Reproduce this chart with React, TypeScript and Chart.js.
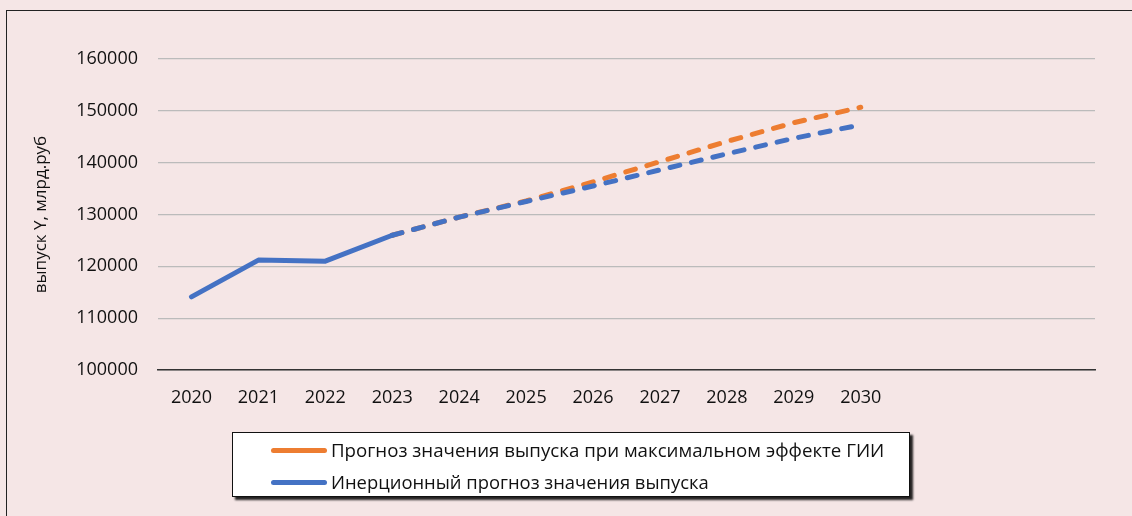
import React, { useEffect, useRef } from "react";
import { Chart, registerables } from "chart.js";

Chart.register(...registerables);

const years = ["2020", "2021", "2022", "2023", "2024", "2025", "2026", "2027", "2028", "2029", "2030", "", "", ""];
const maxEffect = [null, null, null, 126000, 129500, 132600, 136300, 140200, 144100, 147700, 150700, null, null, null];
const inertial = [114100, 121200, 121000, 126000, 129500, 132500, 135500, 138600, 141700, 144700, 147300, null, null, null];
const yTicks = [100000, 110000, 120000, 130000, 140000, 150000, 160000];
const seriesNames = [
  "Прогноз значения выпуска при максимальном эффекте ГИИ",
  "Инерционный прогноз значения выпуска",
];
const yTitle = "выпуск Y, млрд.руб";

const ORANGE = "#ED7D31";
const BLUE = "#4472C4";
const FONT = "'Open Sans', sans-serif";

export default function App() {
  const ref = useRef<HTMLCanvasElement | null>(null);

  useEffect(() => {
    if (!ref.current) return;
    const chart = new Chart(ref.current, {
      type: "line",
      data: {
        labels: years,
        datasets: [
          {
            label: seriesNames[0],
            data: maxEffect,
            borderColor: ORANGE,
            backgroundColor: ORANGE,
            borderWidth: 5,
            borderCapStyle: "round",
            borderJoinStyle: "round",
            borderDash: [10, 12],
            pointRadius: 0,
            tension: 0,
            order: 2,
          },
          {
            label: seriesNames[1],
            data: inertial,
            borderColor: BLUE,
            backgroundColor: BLUE,
            borderWidth: 5,
            borderCapStyle: "round",
            borderJoinStyle: "round",
            pointRadius: 0,
            tension: 0,
            order: 1,
            segment: {
              borderDash: (ctx: any) => (ctx.p0DataIndex >= 3 ? [10, 12] : []),
            },
          },
        ],
      },
      options: {
        responsive: false,
        animation: false,
        layout: { padding: { left: 0, top: 59, right: 37, bottom: 0 } },
        plugins: { legend: { display: false }, tooltip: { enabled: false } },
        scales: {
          x: {
            offset: true,
            grid: { display: false, drawTicks: false, offset: true },
            border: { display: true, color: "#333333", width: 1.5 },
            ticks: {
              color: "#111111",
              font: { family: FONT, size: 18 },
              padding: 17,
              maxRotation: 0,
              autoSkip: false,
            },
            afterFit: (s: any) => {
              s.height = 146;
            },
          },
          y: {
            min: 100000,
            max: 160000,
            afterBuildTicks: (s: any) => {
              s.ticks = yTicks.map((v) => ({ value: v }));
            },
            grid: { color: "#BBBBBB", lineWidth: 1.3, drawTicks: false },
            border: { display: false },
            ticks: {
              color: "#111111",
              font: { family: FONT, size: 18 },
              padding: 20,
              callback: (v: any) => String(v),
            },
            title: {
              display: true,
              text: yTitle,
              color: "#111111",
              font: { family: FONT, size: 17 },
              padding: { top: 31, bottom: 0 },
            },
            afterFit: (s: any) => {
              s.width = 158;
            },
          },
        },
      },
    });
    return () => chart.destroy();
  }, []);

  const legendRow = (color: string, text: string, top: number, size: number) => (
    <div style={{ position: "absolute", left: 38, top, height: 24, display: "flex", alignItems: "center" }}>
      <div style={{ width: 56, height: 5, borderRadius: 3, background: color, marginRight: 4 }} />
      <span style={{ fontFamily: FONT, fontSize: size, color: "#111", whiteSpace: "nowrap", lineHeight: "24px" }}>{text}</span>
    </div>
  );

  return (
    <div style={{ position: "fixed", left: 0, top: 0, width: 1132, height: 516, background: "#F5E6E6", overflow: "hidden" }}>
      <div style={{ position: "absolute", left: 6, top: 10, width: 1300, height: 700, border: "1.5px solid #222", boxSizing: "border-box" }} />
      <canvas ref={ref} width={1132} height={516} style={{ position: "absolute", left: 0, top: 0 }} />
      <div
        style={{
          position: "absolute",
          left: 232,
          top: 432,
          width: 678,
          height: 65,
          background: "#FFFFFF",
          border: "1px solid #111",
          boxShadow: "3px 3px 2px rgba(0,0,0,0.85)",
          boxSizing: "border-box",
        }}
      >
        {legendRow(ORANGE, seriesNames[0], 5, 18.7)}
        {legendRow(BLUE, seriesNames[1], 37, 18.4)}
      </div>
    </div>
  );
}
